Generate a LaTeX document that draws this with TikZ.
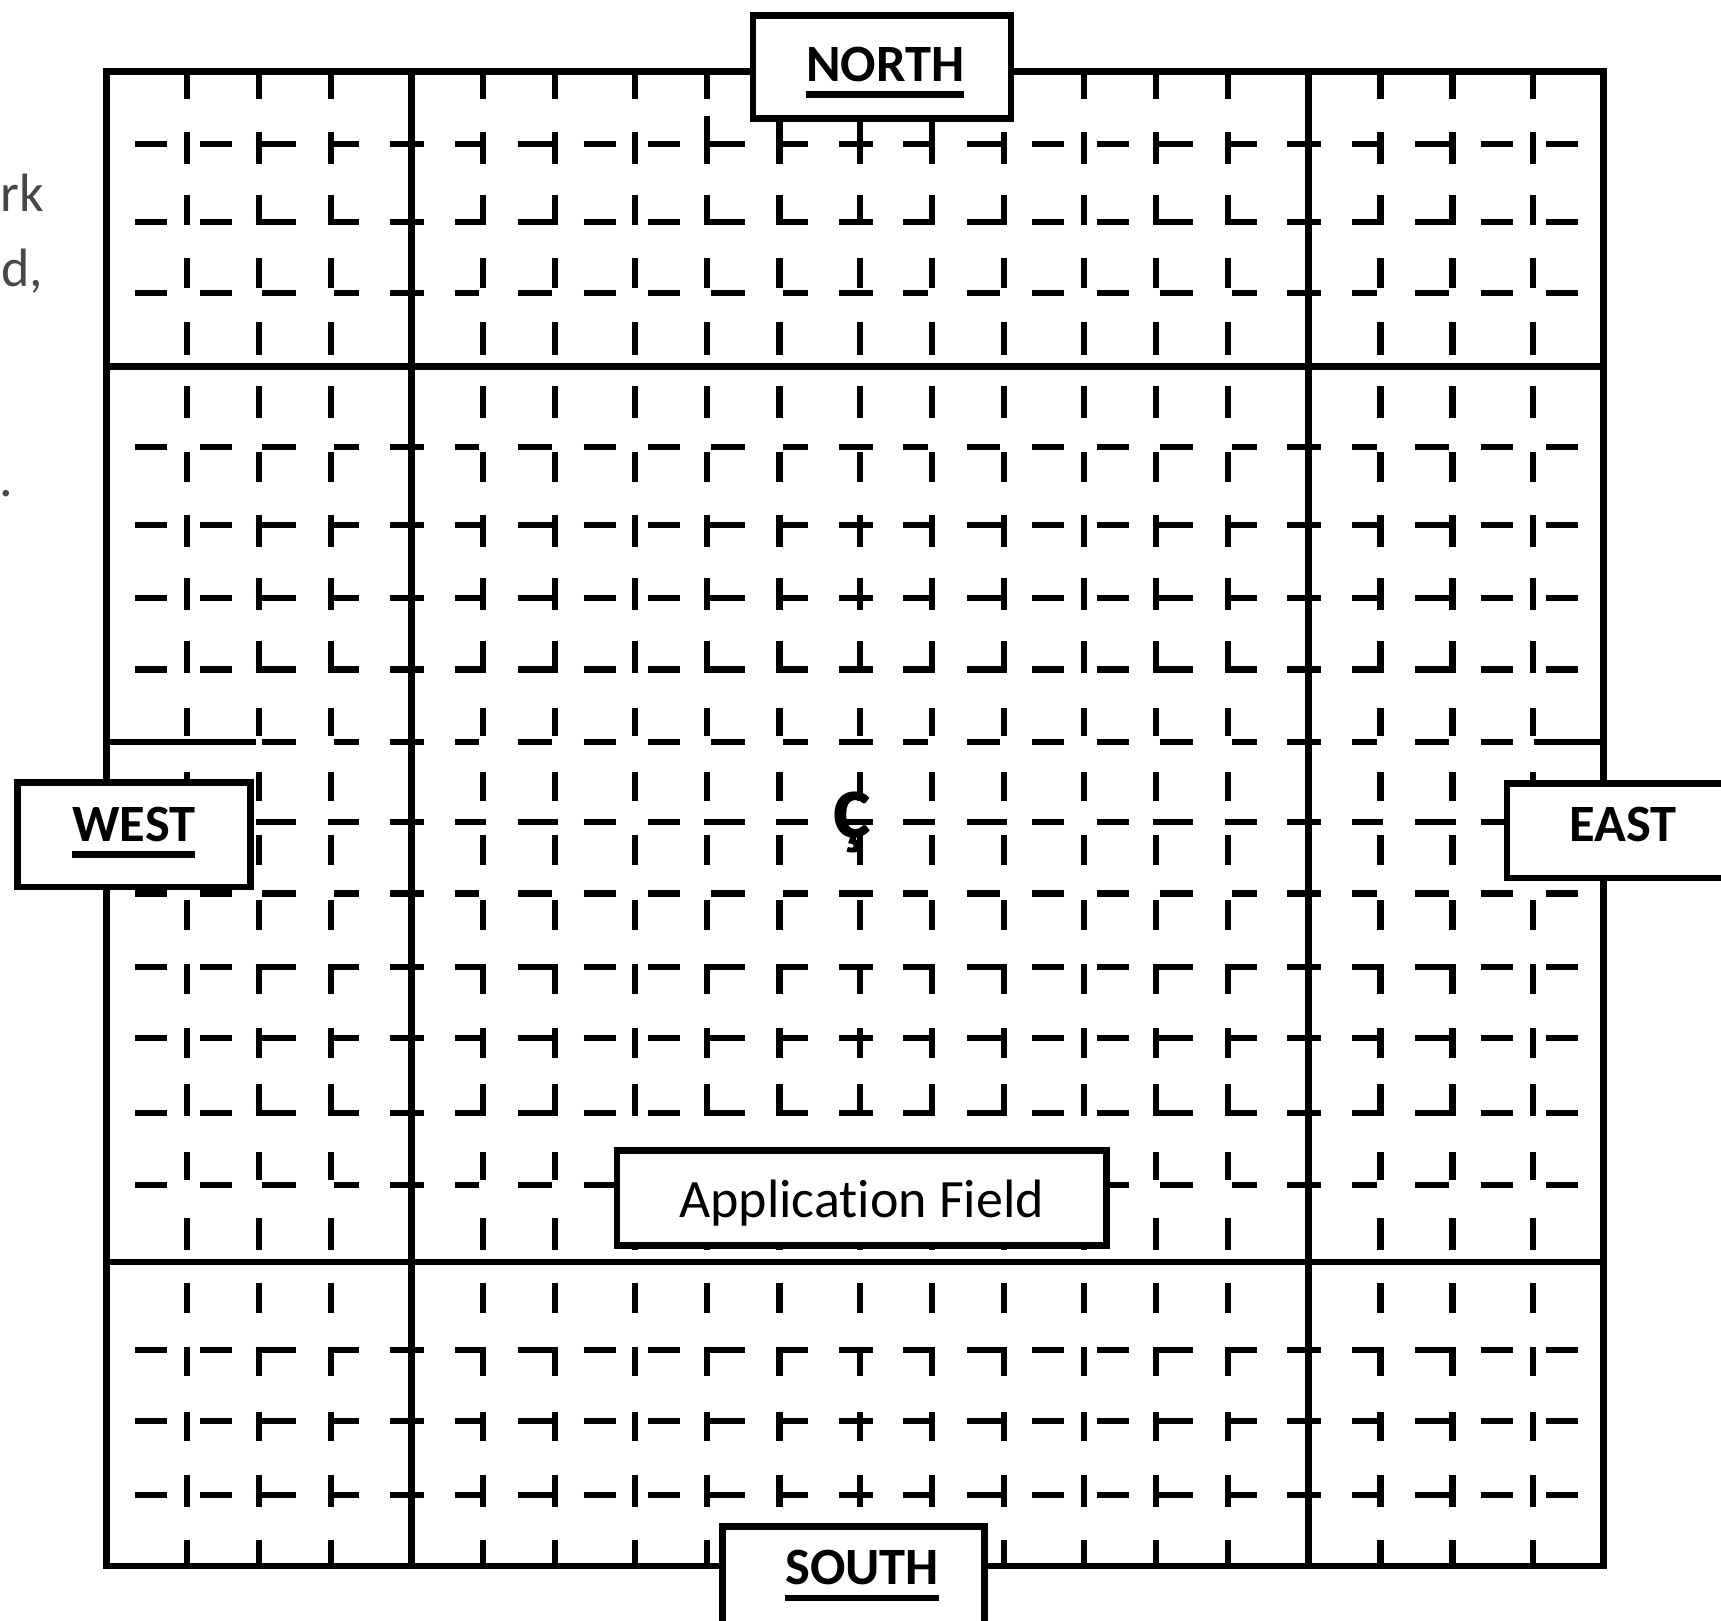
\documentclass[tikz,border=0pt]{standalone}
\usepackage{fontspec}
\setmainfont{Carlito}[Ligatures=NoCommon]
\usetikzlibrary{positioning}

% word with a heavy underline
\newcommand{\ulword}[1]{\vtop{\hbox{#1}\kern2.4pt\hrule height1.7pt}}

% vertical strokes of one row of marks, all 19 columns
\newcommand{\stems}[2]{%
  \foreach \sx in {170,235.7,301.4,374.4,440.1,505.8,578.8,644.5,710.2,783.2,848.9,914.6,987.6,1053.3,1119,1192,1257.7,1323.4,1396.4}
    \draw[glyph] (\sx,#1) -- (\sx,#2);
}
% horizontal arms of one row: level, corner gap
\newcommand{\arms}[2]{%
  \foreach \g in {170,578.8,987.6}
    \draw[glyph] (\g-47,#1) -- (\g-18,#1) (\g+12,#1) -- (\g+41,#1)
      (\g+62.95+#2,#1) -- (\g+99.7,#1)
      (\g+128.65+#2,#1) -- (\g+157.4,#1)
      (\g+185.4,#1) -- (\g+216.4,#1)
      (\g+244.1,#1) -- (\g+272.85-#2,#1)
      (\g+301.8,#1) -- (\g+338.55-#2,#1);
  \draw[glyph] (1349.4,#1) -- (1378.4,#1) (1408.4,#1) -- (1437.4,#1);
}
\newcommand{\glyphrow}[4]{\stems{#1}{#2}\arms{#3}{#4}}

\begin{document}
\begin{tikzpicture}[x=0.1mm, y=-0.1mm,
    glyph/.style={line width=0.56mm},
    frame/.style={line width=0.58mm},
    dirbox/.style={draw, fill=white, line width=0.6mm, inner sep=0pt, font=\fontsize{13.6}{16}\selectfont\bfseries},
    fieldbox/.style={draw, fill=white, line width=0.6mm, inner sep=0pt, font=\fontsize{14}{16}\selectfont},
    margintext/.style={text=black!72, inner sep=0pt, anchor=base east, font=\fontsize{14}{16}\selectfont}
]
\useasboundingbox (0,0) rectangle (1568,1476);

% north band
\stems{65}{90}
\glyphrow{120}{149}{131}{0}
\glyphrow{178}{205}{202}{0}
\glyphrow{235}{262}{267}{6}
\stems{293}{323}
% middle band
\stems{352}{381}
\glyphrow{412}{439}{407}{6}
\glyphrow{469}{498}{478}{0}
\glyphrow{527}{556}{545}{0}
\glyphrow{584}{613}{610}{0}
\glyphrow{645}{671}{676}{6}
\stems{703}{730}
\arms{749}{0}
\stems{761}{788}
\glyphrow{820}{847}{814}{6}
\glyphrow{878}{906}{881}{0}
\glyphrow{937}{964}{946}{0}
\glyphrow{988}{1017}{1014}{0}
\glyphrow{1050}{1075}{1080}{6}
\stems{1110}{1139}
% south band
\stems{1169}{1196}
\glyphrow{1227}{1254}{1230}{0}
\glyphrow{1286}{1313}{1295}{0}
\glyphrow{1344}{1373}{1362}{0}
\stems{1403}{1427}
% stems running up to the NORTH box
\foreach \sx in {644.5,710.2,783.2,848.9}
  \draw[glyph] (\sx,106) -- (\sx,122);

% field outline and dividers
\draw[frame] (97,65) rectangle (1461,1427);
\draw[frame] (375,65) -- (375,1427) (1192,65) -- (1192,1427)
  (97,334) -- (1461,334) (97,1150) -- (1461,1150)
  (97,676) -- (233,676) (1398,676) -- (1461,676);

% labels
\node[dirbox, minimum width=23.5mm, minimum height=9.4mm, text height=11.9pt, text depth=4.3pt] (north) at (803.5,61) {\hspace*{0.6mm}\ulword{NORTH}};
\node[dirbox, minimum width=21.2mm, minimum height=9.5mm, text height=8pt, text depth=4.3pt] (west) at (122,760.5) {\ulword{WEST}};
\node[dirbox, minimum width=21.2mm, minimum height=8.6mm, text height=5.7pt, text depth=0pt] (east) at (1479,757) {EAST};
\node[dirbox, minimum width=23.9mm, minimum height=9.4mm, text height=7.7pt, text depth=4.3pt] (south) at (777.5,1438) {\hspace*{1.6mm}\ulword{SOUTH}};
\node[fieldbox, minimum width=44.6mm, minimum height=8.7mm, text height=10.2pt, text depth=0pt] (field) at (785,1091.5) {Application Field};
\node[inner sep=0pt, anchor=base, font=\fontsize{24}{26}\selectfont\bfseries] (centre) at (776,763) {ç};

% cut-off text at the left edge
\node[margintext] (frag1) at (41,193) {rk};
\node[margintext] (frag2) at (40,261) {d,};
\node[margintext] (frag3) at (13,452) {.};
\end{tikzpicture}
\end{document}
